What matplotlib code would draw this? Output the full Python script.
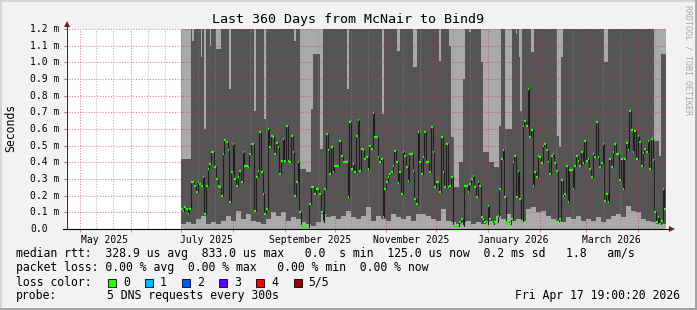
import matplotlib
matplotlib.use("Agg")
import matplotlib.pyplot as plt
import matplotlib.dates as mdates
from matplotlib.patches import Rectangle, Polygon
from matplotlib.lines import Line2D
from matplotlib.transforms import blended_transform_factory
import pandas as pd

W, H = 697, 310
plt.rcParams["font.family"] = "DejaVu Sans Mono"

# time range of the graph
t_start = pd.Timestamp("2025-04-22 19:00")
t_end = pd.Timestamp("2026-04-17 19:00")
first_day = 69  # first day with data (days after t_start)

# median rtt, one value per day, in ms
median_ms = [
    0.12, 0.11, 0.13, 0.12, 0.09, 0.12, 0.28, 0.28, 0.26, 0.22, 0.28, 0.27, 0.26,
    0.31, 0.09, 0.26, 0.36, 0.39, 0.46, 0.46, 0.37, 0.30, 0.26, 0.25, 0.20, 0.45,
    0.535, 0.52, 0.475, 0.16, 0.34, 0.51, 0.30, 0.26, 0.31, 0.35, 0.28, 0.46, 0.38,
    0.38, 0.37, 0.45, 0.51, 0.51, 0.11, 0.31, 0.35, 0.58, 0.34, 0.21, 0.09, 0.12,
    0.60, 0.49, 0.56, 0.55, 0.45, 0.515, 0.49, 0.33, 0.41, 0.54, 0.41, 0.62, 0.41,
    0.40, 0.56, 0.46, 0.20, 0.28, 0.40, 0.10, 0.02,
    0.02, 0.01, 0.01, 0.01, 0.15, 0.25, 0.25, 0.21, 0.24, 0.24, 0.21, 0.10, 0.04,
    0.24, 0.57, 0.475, 0.33, 0.49, 0.34, 0.38, 0.38, 0.38, 0.53, 0.44, 0.40, 0.40,
    0.40, 0.19, 0.64, 0.36, 0.39, 0.34, 0.56, 0.655, 0.35, 0.48, 0.475, 0.42, 0.43,
    0.36, 0.50, 0.48, 0.695, 0.55, 0.55, 0.43, 0.40, 0.42, 0.07, 0.24, 0.28, 0.31,
    0.33, 0.34, 0.38, 0.47, 0.40, 0.275, 0.34, 0.21, 0.46, 0.44, 0.37, 0.29, 0.45,
    0.45, 0.35, 0.18, 0.15, 0.58, 0.40, 0.33, 0.435, 0.58,
    0.40, 0.40, 0.34, 0.61, 0.46, 0.25, 0.28, 0.28, 0.22, 0.55, 0.34, 0.25, 0.51,
    0.25, 0.26, 0.31, 0.02, 0.02, 0.02, 0.02, 0.04, 0.06, 0.02, 0.26, 0.26, 0.22,
    0.27, 0.30, 0.32, 0.25, 0.19, 0.28, 0.26, 0.07, 0.06, 0.04, 0.03, 0.14, 0.06,
    0.04, 0.03, 0.04, 0.04, 0.08, 0.24, 0.42, 0.475, 0.19, 0.04, 0.04, 0.03, 0.06,
    0.40, 0.44, 0.19, 0.35, 0.18, 0.05, 0.615, 0.65, 0.62, 0.84, 0.55, 0.595, 0.26,
    0.34, 0.31, 0.44, 0.43, 0.395, 0.50, 0.51, 0.475,
    0.40, 0.33, 0.44, 0.45, 0.395, 0.35, 0.05, 0.06, 0.295, 0.20, 0.21, 0.38, 0.16,
    0.355, 0.355, 0.24, 0.38, 0.44, 0.41, 0.38, 0.46, 0.395, 0.53, 0.41, 0.42, 0.36,
    0.31, 0.45, 0.435, 0.64, 0.43, 0.375, 0.395, 0.51, 0.17, 0.21, 0.16, 0.42, 0.37,
    0.46, 0.51, 0.45, 0.45, 0.295, 0.42, 0.24, 0.42, 0.515, 0.475, 0.71, 0.595, 0.46,
    0.59, 0.42, 0.56, 0.52, 0.38, 0.455, 0.48, 0.46, 0.53, 0.36, 0.54, 0.415, 0.10,
    0.04, 0.07, 0.03, 0.05, 0.24, 0.12,
]

# lowest smoke band (top of the light grey at the bottom), every 3 days, ms
low_ms = [
    0.03, 0.04, 0.03, 0.06, 0.08, 0.03, 0.04, 0.03, 0.05, 0.08, 0.05, 0.11, 0.06,
    0.09, 0.05, 0.04, 0.03, 0.06, 0.10, 0.08, 0.10, 0.05, 0.07, 0.06, 0.04,
    0.03, 0.02, 0.04, 0.09, 0.07, 0.08, 0.06, 0.08, 0.11, 0.07, 0.06, 0.08, 0.13,
    0.05, 0.08, 0.06, 0.05, 0.09, 0.07, 0.06, 0.08, 0.05, 0.09, 0.09,
    0.08, 0.06, 0.05, 0.12, 0.05, 0.04, 0.03, 0.04, 0.05, 0.03, 0.04, 0.03, 0.05,
    0.04, 0.08, 0.06, 0.09, 0.05, 0.06, 0.05, 0.12, 0.13, 0.10, 0.11, 0.08,
    0.06, 0.05, 0.04, 0.07, 0.06, 0.08, 0.05, 0.06, 0.05, 0.07, 0.04, 0.06, 0.08,
    0.09, 0.07, 0.14, 0.11, 0.10, 0.06, 0.05, 0.04, 0.03, 0.03,
]

# where the upper smoke drops below the top: day from, day to, level in ms
gap_from = [69, 75.6, 80.8, 82.8, 86.2, 90.2, 97.6, 112.8, 118.8, 136.8,
            140.4, 144, 147, 148.4, 152.4, 168.4, 189.4, 198.4, 208.4,
            223.6, 229.6, 231.2, 232.6, 235.6, 238, 241.6, 249.2, 250, 253.6,
            256.6, 259.6, 263.6, 270, 271.6, 272.6, 279.2, 294.8, 295.8, 296.8,
            322.8, 352.8, 355.8, 357.2]
gap_to = [75, 76.8, 81.6, 84.2, 87.2, 93.2, 98.8, 113.8, 119.8, 138.2,
          144, 147, 148.4, 152.4, 154.4, 169.6, 190.8, 200.4, 210.4,
          225, 231.2, 232.6, 235.6, 238, 239.6, 243, 250, 253.6, 256.6,
          259.6, 261.2, 267.6, 270.8, 272.6, 273.6, 280.8, 295.8, 296.8, 298.4,
          325.2, 355.8, 357.2, 360]
gap_level = [0.42, 1.13, 1.03, 0.60, 1.10, 1.08, 0.84, 0.71, 0.66, 1.13,
             0.36, 0.34, 0.72, 1.05, 0.48, 0.84, 0.69, 1.07, 0.97,
             1.01, 1.10, 0.55, 0.25, 0.40, 0.90, 1.18, 1.00, 0.46, 0.40,
             0.37, 0.62, 0.60, 1.17, 1.03, 0.71, 1.06, 0.56, 0.49, 1.03,
             1.00, 0.53, 0.44, 1.05]

y_ticks = [0.0, 0.1, 0.2, 0.3, 0.4, 0.5, 0.6, 0.7, 0.8, 0.9, 1.0, 1.1, 1.2]
x_labels = ["May 2025", "July 2025", "September 2025", "November 2025",
            "January 2026", "March 2026"]
x_label_dates = ["2025-05-16", "2025-07-16", "2025-09-16", "2025-11-16",
                 "2026-01-16", "2026-03-16"]

loss_labels = ["0", "1", "2", "3", "4", "5/5"]
loss_colors = ["#26ff00", "#00b8ff", "#0059ff", "#5e00ff", "#ff0000", "#a00000"]

DARK = "#555555"
LIGHT = "#aaaaaa"
RED_GRID = (0.78, 0.2, 0.2, 0.55)
GREY_GRID = (0.55, 0.55, 0.55, 0.6)


def day(d):
    return t_start + pd.to_timedelta(d, unit="D")


def fx(x):
    return x / W


def fy(y):
    return 1 - y / H


fig = plt.figure(figsize=(W / 100, H / 100), dpi=100, facecolor="#f2f2f2")
ax = fig.add_axes([fx(66), fy(229), 600 / W, 200 / H])
ax.set_facecolor("white")
ax.set_xlim(t_start, t_end)
ax.set_ylim(0, 1.2)
for s in ax.spines.values():
    s.set_visible(False)

# smoke
ax.fill_between([day(first_day), t_end], 0, 1.3, color=DARK, lw=0, zorder=1)
for a, b, lv in zip(gap_from, gap_to, gap_level):
    ax.fill_between([day(a), day(b)], lv, 1.3, color=LIGHT, lw=0, zorder=2)
low_x = [day(first_day + 3 * i) for i in range(len(low_ms))] + [t_end]
low_y = low_ms + [low_ms[-1]]
ax.fill_between(low_x, 0, low_y, step="post", color=LIGHT, lw=0, zorder=2)

# grid
for m in pd.date_range("2025-05-01", "2026-04-30", freq="MS"):
    ax.axvline(m, color=RED_GRID, lw=0.8, ls=(0, (1, 1.5)), zorder=3)
    for dd in (10, 20):
        g = m + pd.Timedelta(days=dd)
        if g < t_end:
            ax.axvline(g, color=GREY_GRID, lw=0.8, ls=(0, (1, 1.5)), zorder=3)
for v in y_ticks[1:]:
    ax.axhline(v, color=RED_GRID, lw=0.8, ls=(0, (1, 1.5)), zorder=3, clip_on=False)

# median
md = [day(first_day + i) for i in range(len(median_ms))]
ax.step(md + [t_end], median_ms + [median_ms[-1]], where="post",
        color="#1e1e1e", lw=0.8, zorder=4)
ax.hlines(median_ms, md, [d + pd.Timedelta(days=1) for d in md],
          color=loss_colors[0], lw=1.6, zorder=5)

# x ticks
ax.set_xticks([pd.Timestamp(d) for d in x_label_dates])
ax.set_xticklabels(x_labels, fontsize=7)
ax.tick_params(axis="x", length=0, pad=4)
ax.set_xticks(list(pd.date_range("2025-05-01", "2026-04-01", freq="MS")), minor=True)
ax.tick_params(axis="x", which="minor", length=2, color=RED_GRID, width=0.8)
ax.set_yticks([])

# y tick labels
tr = blended_transform_factory(fig.transFigure, ax.transData)
for v in y_ticks:
    lab = "0.0" if v == 0 else f"{v:.1f} m"
    fig.text(fx(30), v, lab, transform=tr, fontsize=7, ha="left", va="center")
    fig.add_artist(Line2D([fx(64), fx(67)], [v, v], transform=tr,
                          color=RED_GRID, lw=0.8))

# axes lines + arrows
fig.add_artist(Line2D([fx(67), fx(67)], [fy(229), fy(25)], color="#303030", lw=0.8))
fig.add_artist(Line2D([fx(63), fx(669)], [fy(229), fy(229)], color="black", lw=0.8))
fig.add_artist(Polygon([[fx(67), fy(21)], [fx(64), fy(27)], [fx(70), fy(27)]],
                       closed=True, color="#7f1a1a", lw=0))
fig.add_artist(Polygon([[fx(675), fy(229)], [fx(669), fy(226)], [fx(669), fy(232)]],
                       closed=True, color="#7f1a1a", lw=0))

# texts
fig.text(0.5, fy(19), "Last 360 Days from McNair to Bind9", fontsize=9.6,
         ha="center", va="center")
fig.text(fx(11), fy(128), "Seconds", fontsize=8.3, rotation=90,
         ha="center", va="center")
fig.text(fx(688), fy(5), "RRDTOOL / TOBI OETIKER", fontsize=6, rotation=-90,
         ha="center", va="top", color="#a8a8a8")

fs = 8.3
fig.text(fx(16), fy(254), "median rtt:  328.9 us avg  833.0 us max   0.0  s min"
         "  125.0 us now  0.2 ms sd   1.8   am/s", fontsize=fs, va="center")
fig.text(fx(16), fy(268), "packet loss: 0.00 % avg  0.00 % max   0.00 % min"
         "  0.00 % now", fontsize=fs, va="center")
fig.text(fx(16), fy(282), "loss color:", fontsize=fs, va="center")
for k, (lab, col) in enumerate(zip(loss_labels, loss_colors)):
    x0 = 108 + 37.1 * k
    fig.add_artist(Rectangle((fx(x0), fy(286.5)), 8 / W, 8 / H,
                             facecolor=col, edgecolor="black", lw=0.6))
    fig.text(fx(x0 + 15), fy(282), lab, fontsize=fs, va="center")
fig.text(fx(16), fy(296), "probe:", fontsize=fs, va="center")
fig.text(fx(107), fy(296), "5 DNS requests every 300s", fontsize=fs, va="center")
fig.text(fx(680), fy(296), "Fri Apr 17 19:00:20 2026", fontsize=fs,
         va="center", ha="right")

# frame
fig.add_artist(Line2D([0, 1], [fy(0.5), fy(0.5)], color="#d0d0d0", lw=1.2))
fig.add_artist(Line2D([fx(0.5), fx(0.5)], [0, 1], color="#d0d0d0", lw=1.2))
fig.add_artist(Line2D([0, 1], [fy(309), fy(309)], color="#a0a0a0", lw=2))
fig.add_artist(Line2D([fx(696), fx(696)], [0, 1], color="#a0a0a0", lw=2))

fig.savefig("out.png", dpi=100, facecolor=fig.get_facecolor())
